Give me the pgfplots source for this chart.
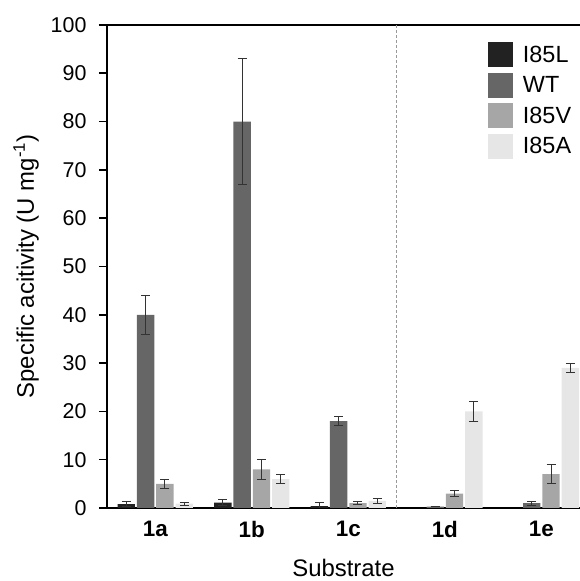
\documentclass[border=0pt]{standalone}
\usepackage{fontspec}
\setmainfont{Liberation Sans}
\usepackage{pgfplots}
\pgfplotsset{compat=1.18}
\usepackage{pgfplotstable}
\definecolor{cL}{HTML}{222222}
\definecolor{cWT}{HTML}{666666}
\definecolor{cV}{HTML}{A6A6A6}
\definecolor{cA}{HTML}{E6E6E6}
\definecolor{errc}{HTML}{333333}

% x = substrate index (0 = 1a ... 4 = 1e), y = activity, e = error
\pgfplotstableread{
x y e
0 0.8 0.5
1 1.1 0.6
2 0.4 0.7
}\tL
\pgfplotstableread{
x y e
0 40 4
1 80 13
2 18 1
3 0.3 0
4 1.0 0.4
}\tWT
\pgfplotstableread{
x y e
0 5 1
1 8 2
2 1.0 0.35
3 3 0.6
4 7 2
}\tV
\pgfplotstableread{
x y e
0 0.9 0.3
1 6 1
2 1.5 0.5
3 20 2
4 29 1
}\tA

\begin{document}
\begin{tikzpicture}
\begin{axis}[name=ax,
  scale only axis, width=473bp, height=483bp,
  ybar, bar width=0.18,
  xmin=-0.5, xmax=4.40, ymin=0, ymax=100,
  axis x line*=bottom, axis y line*=left,
  axis line style={line width=1.6bp, -},
  tick align=outside,
  every tick/.append style={black, line width=1.6bp},
  major tick length=8bp,
  ytick={0,10,...,100},
  xtick={0,1,2,3,4}, xticklabels={1a,1b,1c,1d,1e},
  x tick style={draw=none},
  minor xtick={-0.5,0.5,1.5,2.5,3.5},
  minor x tick style={black, line width=1.6bp},
  minor tick length=8bp,
  extra y ticks={100}, extra y tick labels={},
  extra y tick style={grid=major, major grid style={black, line width=1.6bp}},
  yticklabel style={font=\fontsize{21.5}{25}\selectfont, xshift=-9bp},
  xticklabel style={font=\fontsize{22.5}{26}\selectfont\bfseries, yshift=-2bp},
  /pgf/number format/assume math mode=true,
  ylabel={Specific acitivity (U mg\textsuperscript{-1})},
  xlabel={Substrate},
  ylabel style={font=\fontsize{24}{28}\selectfont, at={(axis description cs:-0.171,0.5)},
    anchor=center, rotate=0},
  xlabel style={font=\fontsize{24}{28}\selectfont, at={(axis description cs:0.5,-0.124)},
    anchor=center},
  error bars/y dir=both, error bars/y explicit,
  error bars/error bar style={errc, line width=1bp},
  error bars/error mark options={errc, rotate=90, mark size=4.5bp, line width=1bp},
  legend image code/.code={\fill[#1] (0bp,-12.5bp) rectangle (25bp,12.5bp);},
  legend style={draw=none, fill=none, font=\fontsize{23.5}{28}\selectfont,
    at={(axis description cs:0.805,0.965)}, anchor=north west,
    inner sep=0pt, row sep=5.5bp,
    nodes={inner sep=0pt}},
  legend cell align=left,
  /tikz/every odd column/.append style={column sep=10bp},
]
\addplot[fill=cL, draw=none, bar shift=-0.3] table[x=x, y=y, y error=e] {\tL};
\addplot[fill=cWT, draw=none, bar shift=-0.1] table[x=x, y=y, y error=e] {\tWT};
\addplot[fill=cV, draw=none, bar shift=0.1] table[x=x, y=y, y error=e] {\tV};
\addplot[fill=cA, draw=none, bar shift=0.3] table[x=x, y=y, y error=e] {\tA};
\addplot[sharp plot, forget plot, no markers, gray!80, line width=1.2bp,
  dash pattern=on 3bp off 2bp, error bars/y dir=none] coordinates {(2.5,0) (2.5,100)};
\legend{I85L, WT, I85V, I85A}
\end{axis}
\pgfresetboundingbox
\path[use as bounding box] ([xshift=-107bp, yshift=-73bp]ax.south west) rectangle ([yshift=25bp]ax.north east);
\end{tikzpicture}
\end{document}
